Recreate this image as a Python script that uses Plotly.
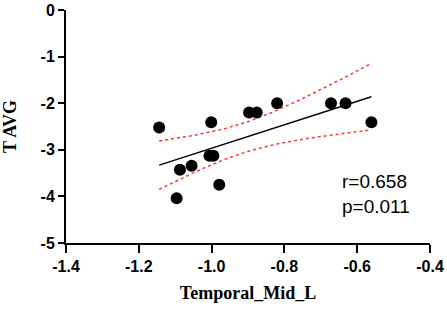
import numpy as np
import plotly.graph_objects as go

x_vals = [-1.144, -1.096, -1.087, -1.055, -1.001, -1.006, -0.995, -0.979,
          -0.897, -0.876, -0.820, -0.672, -0.632, -0.561]
y_vals = [-2.52, -4.04, -3.43, -3.34, -2.41, -3.13, -3.13, -3.75,
          -2.20, -2.20, -2.00, -2.00, -2.00, -2.41]
x_ticks = [-1.4, -1.2, -1.0, -0.8, -0.6, -0.4]
x_ticklabels = ["-1.4", "-1.2", "-1.0", "-0.8", "-0.6", "-0.4"]
y_ticks = [0, -1, -2, -3, -4, -5]
y_ticklabels = ["0", "-1", "-2", "-3", "-4", "-5"]
stats_text = ["r=0.658", "p=0.011"]

x = np.array(x_vals)
y = np.array(y_vals)
n = len(x)
b1, b0 = np.polyfit(x, y, 1)
xs = np.linspace(x.min(), x.max(), 100)
ys = b0 + b1 * xs
res = y - (b0 + b1 * x)
s = np.sqrt(np.sum(res ** 2) / (n - 2))
sxx = np.sum((x - x.mean()) ** 2)
t = 2.179  # t(0.975, 12)
se = s * np.sqrt(1.0 / n + (xs - x.mean()) ** 2 / sxx)
upper = ys + t * se
lower = ys - t * se

fig = go.Figure()
fig.add_trace(go.Scatter(x=xs, y=upper, mode="lines",
                         line=dict(color="#ff3333", width=1.5, dash="dot"), showlegend=False))
fig.add_trace(go.Scatter(x=xs, y=lower, mode="lines",
                         line=dict(color="#ff3333", width=1.5, dash="dot"), showlegend=False))
fig.add_trace(go.Scatter(x=xs, y=ys, mode="lines",
                         line=dict(color="black", width=1.5), showlegend=False))
fig.add_trace(go.Scatter(x=x, y=y, mode="markers",
                         marker=dict(color="black", size=12), showlegend=False))

fig.add_annotation(x=-0.646, y=-3.95, xref="x", yref="y", text="<br>".join(stats_text),
                   showarrow=False, xanchor="left", yanchor="middle", align="left",
                   font=dict(family="Liberation Sans", size=19, color="black"))

tickfont = dict(family="Liberation Sans", size=16, color="black", weight="bold")
titlefont = dict(family="Liberation Serif", size=18, color="black", weight="bold")

fig.update_layout(
    width=447, height=310,
    margin=dict(l=66, r=17, t=10, b=67),
    plot_bgcolor="white", paper_bgcolor="white",
    xaxis=dict(range=[-1.4, -0.4], tickvals=x_ticks, ticktext=x_ticklabels,
               showline=True, linecolor="black", linewidth=2, automargin=False,
               ticks="outside", ticklen=8, tickwidth=2, tickcolor="black",
               showgrid=False, zeroline=False, tickfont=tickfont,
               title=dict(text="Temporal_Mid_L", font=titlefont, standoff=12)),
    yaxis=dict(range=[-5, 0], tickvals=y_ticks, ticktext=y_ticklabels,
               showline=True, linecolor="black", linewidth=2, automargin=False,
               ticks="outside", ticklen=6, tickwidth=2, tickcolor="black",
               showgrid=False, zeroline=False, tickfont=tickfont,
               title=dict(text="T AVG", font=titlefont, standoff=20)),
)

fig.write_html("out.html", config={"displayModeBar": False},
               post_script="document.body.style.margin='0';")
